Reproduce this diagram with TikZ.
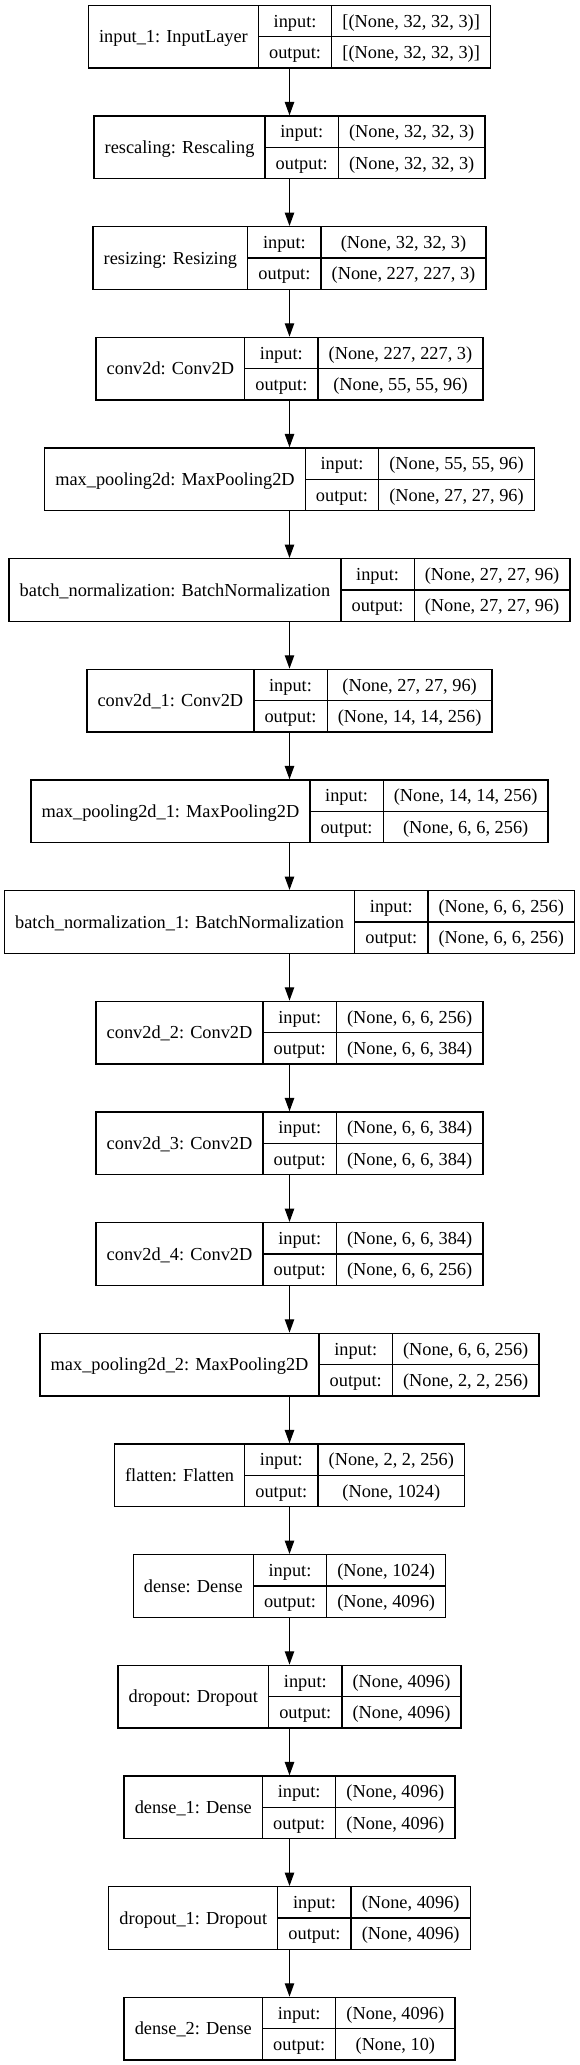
\documentclass[tikz,border=0pt]{standalone}
\usepackage{fontspec}
\setmainfont{Liberation Serif}
\usetikzlibrary{arrows.meta}
\newlength\lwA
\newlength\lwB
\newlength\lwC
\newlength\lwT
\newlength\lwX
\newlength\lwL
\newlength\lyT
\newcommand\kerasfont{\fontsize{13.75}{16}\selectfont}
\tikzset{
  gvbox/.style={draw=black, line width=1pt, inner sep=0pt, minimum height=47pt, fill=none},
  gvline/.style={draw=black, line width=1pt},
  celltext/.style={font=\kerasfont, inner sep=0pt, text height=9.1pt, text depth=0pt, anchor=center},
  gvarrow/.style={draw=black, line width=1pt, -{Triangle[length=10pt,width=7pt]}}
}
% #1 node name, #2 index, #3 label, #4 input shape, #5 output shape
\newcommand\layerbox[5]{%
  \pgfinterruptpicture
    \settowidth\lwA{\normalfont\kerasfont #3}\global\lwA=\lwA
    \settowidth\lwB{\normalfont\kerasfont output:}\global\lwB=\lwB
    \settowidth\lwC{\normalfont\kerasfont #4}\global\lwC=\lwC
    \settowidth\lwX{\normalfont\kerasfont #5}\global\lwX=\lwX
  \endpgfinterruptpicture
  \addtolength\lwA{16pt}%
  \addtolength\lwB{16pt}%
  \ifdim\lwX>\lwC \lwC=\lwX\fi
  \addtolength\lwC{16pt}%
  \lwT=\dimexpr\lwA+\lwB+\lwC\relax
  \lwL=\dimexpr217.125pt-\lwT/2\relax
  \lyT=\dimexpr1544.75pt-83pt*#2\relax
  \node[gvbox, minimum width=\lwT] (#1) at (217.125pt,{\lyT-23.5pt}) {};
  \draw[gvline] ({\lwL+\lwA},\lyT) -- ({\lwL+\lwA},{\lyT-47pt});
  \draw[gvline] ({\lwL+\lwA+\lwB},\lyT) -- ({\lwL+\lwA+\lwB},{\lyT-47pt});
  \draw[gvline] ({\lwL+\lwA},{\lyT-23.5pt}) -- ({\lwL+\lwT},{\lyT-23.5pt});
  \node[celltext] (#1-name) at ({\lwL+\lwA/2},{\lyT-23.5pt}) {#3};
  \node[celltext] (#1-inl) at ({\lwL+\lwA+\lwB/2},{\lyT-11.75pt}) {input:};
  \node[celltext] (#1-outl) at ({\lwL+\lwA+\lwB/2},{\lyT-35.25pt}) {output:};
  \node[celltext] (#1-in) at ({\lwL+\lwA+\lwB+\lwC/2},{\lyT-11.75pt}) {#4};
  \node[celltext] (#1-out) at ({\lwL+\lwA+\lwB+\lwC/2},{\lyT-35.25pt}) {#5};
}
\begin{document}
\begin{tikzpicture}
\useasboundingbox (0,0) rectangle (434.25pt,1548.75pt);
\layerbox{L0}{0}{input\_1: InputLayer}{[(None, 32, 32, 3)]}{[(None, 32, 32, 3)]}
\layerbox{L1}{1}{rescaling: Rescaling}{(None, 32, 32, 3)}{(None, 32, 32, 3)}
\layerbox{L2}{2}{resizing: Resizing}{(None, 32, 32, 3)}{(None, 227, 227, 3)}
\layerbox{L3}{3}{conv2d: Conv2D}{(None, 227, 227, 3)}{(None, 55, 55, 96)}
\layerbox{L4}{4}{max\_pooling2d: MaxPooling2D}{(None, 55, 55, 96)}{(None, 27, 27, 96)}
\layerbox{L5}{5}{batch\_normalization: BatchNormalization}{(None, 27, 27, 96)}{(None, 27, 27, 96)}
\layerbox{L6}{6}{conv2d\_1: Conv2D}{(None, 27, 27, 96)}{(None, 14, 14, 256)}
\layerbox{L7}{7}{max\_pooling2d\_1: MaxPooling2D}{(None, 14, 14, 256)}{(None, 6, 6, 256)}
\layerbox{L8}{8}{batch\_normalization\_1: BatchNormalization}{(None, 6, 6, 256)}{(None, 6, 6, 256)}
\layerbox{L9}{9}{conv2d\_2: Conv2D}{(None, 6, 6, 256)}{(None, 6, 6, 384)}
\layerbox{L10}{10}{conv2d\_3: Conv2D}{(None, 6, 6, 384)}{(None, 6, 6, 384)}
\layerbox{L11}{11}{conv2d\_4: Conv2D}{(None, 6, 6, 384)}{(None, 6, 6, 256)}
\layerbox{L12}{12}{max\_pooling2d\_2: MaxPooling2D}{(None, 6, 6, 256)}{(None, 2, 2, 256)}
\layerbox{L13}{13}{flatten: Flatten}{(None, 2, 2, 256)}{(None, 1024)}
\layerbox{L14}{14}{dense: Dense}{(None, 1024)}{(None, 4096)}
\layerbox{L15}{15}{dropout: Dropout}{(None, 4096)}{(None, 4096)}
\layerbox{L16}{16}{dense\_1: Dense}{(None, 4096)}{(None, 4096)}
\layerbox{L17}{17}{dropout\_1: Dropout}{(None, 4096)}{(None, 4096)}
\layerbox{L18}{18}{dense\_2: Dense}{(None, 4096)}{(None, 10)}
\foreach \a/\b in {L0/L1,L1/L2,L2/L3,L3/L4,L4/L5,L5/L6,L6/L7,L7/L8,L8/L9,L9/L10,L10/L11,L11/L12,L12/L13,L13/L14,L14/L15,L15/L16,L16/L17,L17/L18}
  \draw[gvarrow] (\a.south) -- (\b.north);
\end{tikzpicture}
\end{document}
